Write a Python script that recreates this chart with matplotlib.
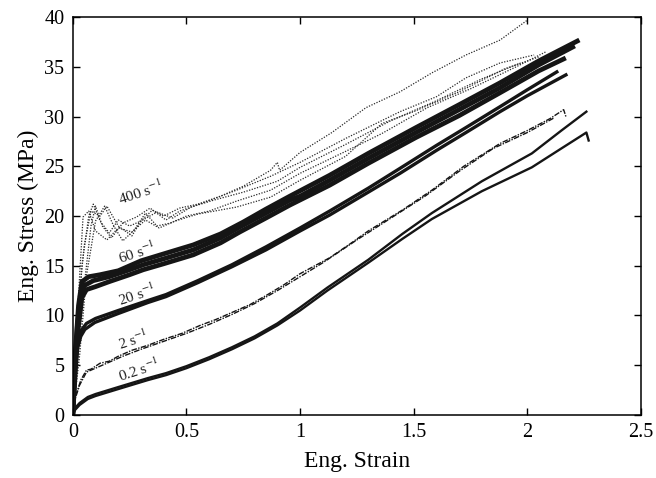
import matplotlib.pyplot as plt

plt.rcParams['font.family'] = ['Liberation Serif', 'DejaVu Serif']
plt.rcParams['mathtext.fontset'] = 'stix'

# 400 1/s tests (dotted)
s400_1_x = [0, 0.02, 0.04, 0.07, 0.09, 0.12, 0.16, 0.2, 0.25, 0.3, 0.35, 0.4, 0.47, 0.55, 0.65, 0.75, 0.87, 0.9, 0.91, 1.0, 1.14, 1.29, 1.44, 1.58, 1.73, 1.88, 2.0]
s400_1_y = [0, 8, 15, 20, 21.2, 19.5, 18.3, 19.6, 19.0, 19.5, 20.6, 20.0, 20.8, 21.2, 22.0, 23.0, 24.6, 25.4, 24.6, 26.4, 28.4, 30.9, 32.5, 34.4, 36.2, 37.7, 39.7]
s400_2_x = [0, 0.02, 0.05, 0.08, 0.1, 0.13, 0.17, 0.22, 0.28, 0.34, 0.41, 0.47, 0.57, 0.72, 0.87, 1.0, 1.2, 1.44, 1.6, 1.73, 1.88, 2.03]
s400_2_y = [0, 5, 13, 19, 21.0, 19, 17.8, 19.3, 19.9, 20.8, 19.6, 20.5, 21.3, 22.6, 24.0, 25.4, 27.8, 30.5, 32.0, 33.9, 35.4, 36.2]
s400_3_x = [0, 0.03, 0.06, 0.1, 0.14, 0.18, 0.22, 0.27, 0.32, 0.37, 0.43, 0.5, 0.6, 0.72, 0.87, 1.0, 1.2, 1.36, 1.56, 1.75, 1.95, 2.08]
s400_3_y = [0, 6, 14, 19.5, 21.0, 19.0, 17.5, 18.6, 20.3, 19.0, 19.3, 20.0, 20.5, 21.5, 22.6, 24.3, 26.5, 28.3, 30.9, 32.8, 35.0, 36.5]
s400_4_x = [0, 0.01, 0.03, 0.045, 0.07, 0.1, 0.15, 0.2, 0.26, 0.32, 0.38, 0.45, 0.55, 0.72, 0.87, 1.0, 1.2, 1.36, 1.5, 1.7, 1.9, 2.05]
s400_4_y = [0, 6, 14, 19.9, 20.5, 18.5, 17.6, 18.8, 18.4, 19.6, 18.8, 19.5, 20.2, 20.9, 21.9, 23.6, 26.0, 29.3, 30.5, 32.5, 34.8, 36.0]
s400_5_x = [0, 0.02, 0.05, 0.08, 0.12, 0.15, 0.2, 0.26, 0.3, 0.37, 0.44, 0.52, 0.62, 0.75, 0.9, 1.0, 1.2, 1.4, 1.6, 1.8, 1.97]
s400_5_y = [0, 10, 17, 20.5, 20.0, 21.0, 19.0, 18.0, 19.5, 20.4, 19.8, 20.9, 21.6, 22.4, 23.5, 24.9, 27.2, 29.6, 31.6, 33.8, 35.4]

# 60 1/s tests (dense band)
s60_1_x = [0, 0.01, 0.025, 0.04, 0.07, 0.12, 0.2, 0.3, 0.4, 0.53, 0.65, 0.75, 0.85, 0.955, 1.13, 1.3, 1.51, 1.7, 1.88, 2.05, 2.22]
s60_1_y = [0, 6, 11, 13.4, 13.9, 14.1, 14.5, 15.5, 16.2, 17.1, 18.2, 19.4, 20.7, 22.0, 24.1, 26.3, 28.9, 31.2, 33.4, 35.6, 37.6]
s60_2_x = [0, 0.01, 0.02, 0.035, 0.05, 0.09, 0.16, 0.25, 0.31, 0.4, 0.53, 0.65, 0.735, 0.85, 0.955, 1.0, 1.13, 1.3, 1.51, 1.7, 1.88, 2.05, 2.2]
s60_2_y = [0, 5, 9, 12.0, 13.0, 13.5, 13.9, 14.6, 15.1, 15.7, 16.6, 17.8, 18.9, 20.3, 21.6, 22.0, 23.6, 25.8, 28.4, 30.7, 32.9, 35.2, 37.0]
s60_3_x = [0, 0.01, 0.02, 0.04, 0.06, 0.1, 0.16, 0.25, 0.31, 0.4, 0.53, 0.65, 0.735, 0.85, 0.955, 1.13, 1.3, 1.51, 1.7, 1.88, 2.05, 2.16]
s60_3_y = [0, 4, 8, 11.8, 12.6, 12.9, 13.4, 14.1, 14.6, 15.2, 16.1, 17.3, 18.4, 19.8, 21.1, 23.1, 25.3, 27.9, 30.1, 32.4, 34.6, 35.8]

# 20 1/s tests
s20_1_x = [0, 0.005, 0.01, 0.022, 0.035, 0.053, 0.097, 0.2, 0.33, 0.41, 0.55, 0.7, 0.85, 1.0, 1.13, 1.3, 1.44, 1.6, 1.73, 1.88, 2.0, 2.17]
s20_1_y = [0, 2.5, 4.5, 6.8, 7.9, 8.6, 9.3, 10.2, 11.3, 11.9, 13.3, 14.9, 16.6, 18.5, 20.1, 22.4, 24.3, 26.6, 28.4, 30.5, 32.1, 34.2]
s20_2_x = [0, 0.01, 0.02, 0.04, 0.06, 0.1, 0.2, 0.33, 0.41, 0.55, 0.7, 0.85, 1.0, 1.13, 1.3, 1.44, 1.6, 1.73, 1.88, 2.0, 2.13]
s20_2_y = [0, 5, 7.4, 8.6, 9.2, 9.7, 10.5, 11.5, 12.1, 13.5, 15.1, 16.9, 18.8, 20.5, 22.8, 24.8, 27.1, 28.9, 31.0, 32.7, 34.5]

# 2 1/s tests (dash-dot)
s2_1_x = [0, 0.005, 0.01, 0.02, 0.035, 0.06, 0.08, 0.1, 0.12, 0.16, 0.2, 0.26, 0.33, 0.4, 0.48, 0.56, 0.63, 0.7, 0.78, 0.85, 0.93, 1.0, 1.13, 1.22, 1.3, 1.45, 1.58, 1.72, 1.88, 2.0, 2.1, 2.16, 2.17]
s2_1_y = [0, 1.2, 2.0, 2.4, 3.5, 4.5, 4.6, 4.9, 5.2, 5.4, 5.9, 6.5, 7.0, 7.6, 8.2, 9.0, 9.6, 10.3, 11.1, 12.0, 13.1, 14.2, 15.8, 17.2, 18.5, 20.6, 22.6, 25.0, 27.3, 28.6, 29.8, 30.7, 30.0]
s2_2_x = [0, 0.01, 0.03, 0.06, 0.1, 0.15, 0.22, 0.3, 0.4, 0.5, 0.6, 0.7, 0.8, 0.9, 1.0, 1.1, 1.25, 1.4, 1.55, 1.7, 1.85, 2.0, 2.12]
s2_2_y = [0, 1.6, 3.0, 4.3, 4.7, 5.2, 5.9, 6.6, 7.4, 8.2, 9.1, 10.1, 11.2, 12.5, 13.9, 15.3, 17.6, 19.8, 22.0, 24.5, 26.8, 28.4, 29.9]

# 0.2 1/s tests
s02_1_x = [0, 0.01, 0.03, 0.066, 0.1, 0.2, 0.33, 0.41, 0.5, 0.6, 0.7, 0.8, 0.9, 1.0, 1.12, 1.3, 1.45, 1.58, 1.8, 2.02, 2.15, 2.26]
s02_1_y = [0, 0.7, 1.2, 1.8, 2.1, 2.8, 3.7, 4.2, 4.9, 5.8, 6.8, 7.9, 9.2, 10.8, 12.8, 15.6, 18.2, 20.3, 23.5, 26.3, 28.6, 30.5]
s02_2_x = [0, 0.01, 0.03, 0.066, 0.1, 0.2, 0.33, 0.41, 0.5, 0.6, 0.7, 0.8, 0.9, 1.0, 1.12, 1.3, 1.45, 1.58, 1.8, 2.02, 2.15, 2.26, 2.27]
s02_2_y = [0, 0.5, 1.0, 1.6, 1.9, 2.6, 3.5, 4.0, 4.7, 5.6, 6.6, 7.7, 9.0, 10.5, 12.5, 15.3, 17.7, 19.7, 22.5, 24.9, 26.8, 28.4, 27.6]

rate_labels = ['400 s$^{-1}$', '60 s$^{-1}$', '20 s$^{-1}$', '2 s$^{-1}$', '0.2 s$^{-1}$']
label_x = [0.21, 0.21, 0.21, 0.21, 0.21]
label_y = [21.1, 15.2, 10.9, 6.5, 3.3]

x_ticks = [0, 0.5, 1, 1.5, 2, 2.5]
x_tick_labels = ['0', '0.5', '1', '1.5', '2', '2.5']
y_ticks = [0, 5, 10, 15, 20, 25, 30, 35, 40]

fig = plt.figure(figsize=(6.56, 4.78), dpi=100)
ax = fig.add_axes([0.111, 0.132, 0.866, 0.832])

ink = '#151515'
for xs, ys in [(s400_1_x, s400_1_y), (s400_2_x, s400_2_y), (s400_3_x, s400_3_y),
               (s400_4_x, s400_4_y), (s400_5_x, s400_5_y)]:
    ax.plot(xs, ys, color='#2a2a2a', lw=0.9, linestyle=(0, (1, 1.2)))

for xs, ys in [(s60_1_x, s60_1_y), (s60_2_x, s60_2_y), (s60_3_x, s60_3_y)]:
    ax.plot(xs, ys, color=ink, lw=3.4)

for xs, ys in [(s20_1_x, s20_1_y), (s20_2_x, s20_2_y)]:
    ax.plot(xs, ys, color=ink, lw=2.4)

for xs, ys in [(s2_1_x, s2_1_y), (s2_2_x, s2_2_y)]:
    ax.plot(xs, ys, color=ink, lw=1.0, linestyle=(0, (4, 1, 1, 1)))

for xs, ys in [(s02_1_x, s02_1_y), (s02_2_x, s02_2_y)]:
    ax.plot(xs, ys, color=ink, lw=1.7)

for txt, tx, ty in zip(rate_labels, label_x, label_y):
    ax.text(tx, ty, txt, fontsize=11, rotation=18, rotation_mode='anchor',
            ha='left', va='baseline', color='#222222')

ax.set_xlim(0, 2.5)
ax.set_ylim(0, 40)
ax.set_xticks(x_ticks)
ax.set_xticklabels(x_tick_labels)
ax.set_yticks(y_ticks)
ax.tick_params(direction='in', top=True, right=True, length=5, width=1,
               labelsize=14.5, pad=6)
for sp in ax.spines.values():
    sp.set_linewidth(1.1)
ax.set_xlabel('Eng. Strain', fontsize=17, labelpad=6)
ax.set_ylabel('Eng. Stress (MPa)', fontsize=17, labelpad=4)

fig.savefig('out.png', dpi=100)
